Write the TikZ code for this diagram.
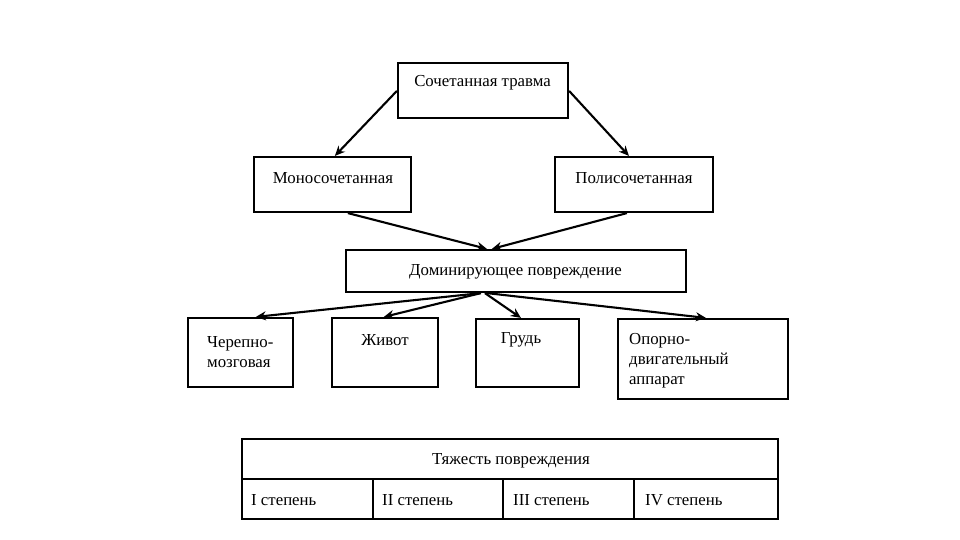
\documentclass[tikz,border=0pt]{standalone}
\usepackage{fontspec}
\setmainfont{Liberation Serif}
\usetikzlibrary{arrows.meta,calc}
\begin{document}
\begin{tikzpicture}[x=1pt,y=-1pt,
  box/.style 2 args={draw=black,line width=2.2pt,inner sep=0pt,minimum width=#1,minimum height=#2},
  txt/.style={font=\fontsize{16.8}{20}\selectfont,inner sep=0pt,align=left},
  arr/.style={-{Stealth[length=10pt,width=9pt]},line width=2.1pt}]
\useasboundingbox[fill=white] (0,0) rectangle (960,540);
% boxes
\node[box={170}{55}] (top) at (483,90.5) {};
\node[box={157}{55}] (mono) at (332.5,184.5) {};
\node[box={158}{55}] (poly) at (634,184.5) {};
\node[box={340}{42}] (dom) at (516,271) {};
\node[box={105}{69}] (cher) at (240.5,352.5) {};
\node[box={106}{69}] (zhiv) at (385,352.5) {};
\node[box={103}{68}] (grud) at (527.5,353) {};
\node[box={170}{80}] (opor) at (703,359) {};
% table
\node[box={536}{40}] (hdr) at (510,459) {};
\node[box={131}{40}] (c1) at (307.5,499) {};
\node[box={130}{40}] (c2) at (438,499) {};
\node[box={131}{40}] (c3) at (568.5,499) {};
\node[box={144}{40}] (c4) at (706,499) {};
% texts
\node[txt] (ttop) at (482.5,83) {Сочетанная травма};
\node[txt] (tmono) at (333,178) {Моносочетанная};
\node[txt] (tpoly) at (634,178) {Полисочетанная};
\node[txt] (tdom) at (515.5,272) {Доминирующее повреждение};
\node[txt,anchor=west] (tcher) at (207,352) {Черепно-\\мозговая};
\node[txt] (tzhiv) at (385,340) {Живот};
\node[txt] (tgrud) at (521,340) {Грудь};
\node[txt,anchor=west] (topor) at (629,361) {Опорно-\\двигательный\\аппарат};
\node[txt] (thdr) at (511,461) {Тяжесть повреждения};
\node[txt,anchor=west] (t1) at (251,500) {I степень};
\node[txt,anchor=west] (t2) at (382,500) {II степень};
\node[txt,anchor=west] (t3) at (513,500) {III степень};
\node[txt,anchor=west] (t4) at (645,500) {IV степень};
% arrows
\draw[arr] ($(top.north west)+(0,29)$) -- ($(mono.north west)+(82,0)$);
\draw[arr] ($(top.north east)+(0,29)$) -- ($(poly.north west)+(75,0)$);
\draw[arr] ($(mono.south west)+(95,0)$) -- ($(dom.north west)+(142,0)$);
\draw[arr] ($(poly.south west)+(73,0)$) -- ($(dom.north west)+(147,0)$);
\draw[arr] ($(dom.south west)+(136,0)$) -- ($(cher.north west)+(69,0)$);
\draw[arr] ($(dom.south west)+(136,0)$) -- ($(zhiv.north west)+(53,0)$);
\draw[arr] ($(dom.south west)+(140,0)$) -- ($(grud.north west)+(46,0)$);
\draw[arr] ($(dom.south west)+(142,0)$) -- ($(opor.north west)+(89,0)$);
\end{tikzpicture}
\end{document}
